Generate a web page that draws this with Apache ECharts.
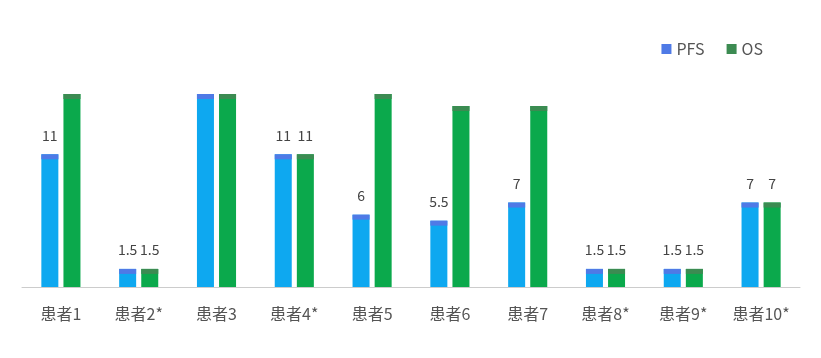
<!DOCTYPE html>
<html><head><meta charset="utf-8">
<script src="https://cdn.jsdelivr.net/npm/echarts@6/dist/echarts.min.js"></script>
<style>html,body{margin:0;padding:0;background:#fff}#c{width:821px;height:358px}</style>
</head><body><div id="c"></div>
<script>
const categories = ['患者1','患者2*','患者3','患者4*','患者5','患者6','患者7','患者8*','患者9*','患者10*'];
const pfsValues = [11, 1.5, 16, 11, 6, 5.5, 7, 1.5, 1.5, 7];
const osValues  = [16, 1.5, 16, 11, 16, 15, 15, 1.5, 1.5, 7];

const pfsCap = '#4f7ae6', pfsBody = '#0ea8f0';
const osCap = '#3c8b52', osBody = '#0ba94c';
const barW = 17, gap = '30%';
const labelFmt = p => (p.value >= 15 ? '' : String(p.value));
const font = '"Noto Sans CJK SC", "Noto Sans", sans-serif';

const chart = echarts.init(document.getElementById('c'));
chart.setOption({
  animation: false,
  legend: {
    right: 53, top: 36, itemWidth: 10, itemHeight: 10, itemGap: 22,
    icon: 'rect',
    textStyle: { fontSize: 16, color: '#555', fontFamily: font },
    data: [{ name: 'PFS', itemStyle: { color: pfsCap } }, { name: 'OS', itemStyle: { color: osCap } }]
  },
  grid: { left: 22, right: 21, top: 94, bottom: 71 },
  xAxis: {
    type: 'category', data: categories,
    axisLine: { lineStyle: { color: '#ccc' } },
    axisTick: { show: false },
    axisLabel: { fontSize: 16, color: '#555', margin: 19, fontFamily: font }
  },
  yAxis: { type: 'value', min: 0, max: 16, show: false, splitLine: { show: false } },
  series: [
    { name: 'PFS', type: 'bar', data: pfsValues, barWidth: barW, barGap: gap,
      itemStyle: { color: pfsBody },
      label: { show: true, position: 'top', distance: 12, fontSize: 14, color: '#444', fontFamily: font, formatter: labelFmt } },
    { name: 'OS', type: 'bar', data: osValues, barWidth: barW, barGap: gap,
      itemStyle: { color: osBody },
      label: { show: true, position: 'top', distance: 12, fontSize: 14, color: '#444', fontFamily: font, formatter: labelFmt } },
    { name: 'PFS', type: 'pictorialBar', data: pfsValues, barWidth: barW, barGap: gap,
      symbol: 'rect', symbolSize: ['100%', 5], symbolPosition: 'end', symbolOffset: [0, 0],
      itemStyle: { color: pfsCap }, z: 5, silent: true },
    { name: 'OS', type: 'pictorialBar', data: osValues, barWidth: barW, barGap: gap,
      symbol: 'rect', symbolSize: ['100%', 5], symbolPosition: 'end', symbolOffset: [0, 0],
      itemStyle: { color: osCap }, z: 5, silent: true }
  ]
});
</script></body></html>
